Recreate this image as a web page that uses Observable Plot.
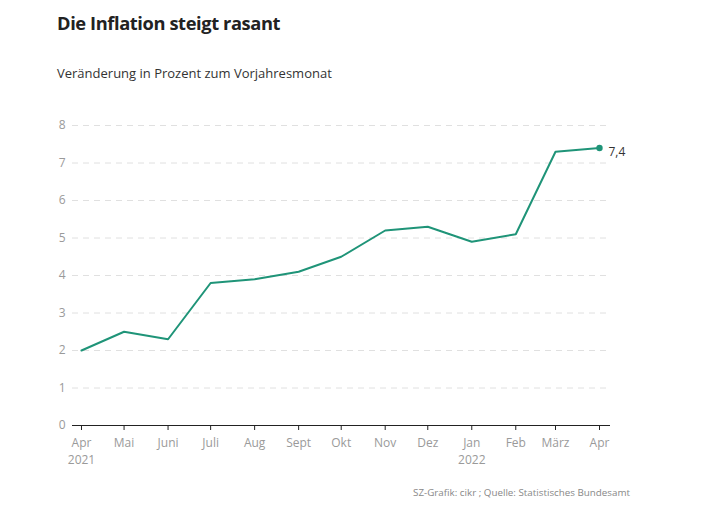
<!DOCTYPE html>
<html><head><meta charset="utf-8">
<script src="https://cdn.jsdelivr.net/npm/d3@7"></script>
<script src="https://cdn.jsdelivr.net/npm/@observablehq/plot@0.6"></script>
<style>
body{margin:0;background:#fff;font-family:"Open Sans",sans-serif;}
#wrap{position:relative;width:710px;height:507px;overflow:hidden;}
#title{position:absolute;left:57px;top:10px;margin:0;font-size:18.3px;font-weight:700;color:#222;letter-spacing:-0.4px;}
#sub{position:absolute;left:57px;top:64px;margin:0;font-size:13px;color:#333;}
#chart{position:absolute;left:0;top:105px;}
#cap{position:absolute;right:80px;top:486px;font-size:9.8px;color:#888;}
</style></head>
<body><div id="wrap">
<div id="title">Die Inflation steigt rasant</div>
<div id="sub">Veränderung in Prozent zum Vorjahresmonat</div>
<div id="chart"></div>
<div id="cap">SZ-Grafik: cikr ; Quelle: Statistisches Bundesamt</div>
</div>
<script>
const months = ["2021-04-01","2021-05-01","2021-06-01","2021-07-01","2021-08-01","2021-09-01","2021-10-01","2021-11-01","2021-12-01","2022-01-01","2022-02-01","2022-03-01","2022-04-01"];
const values = [2.0,2.5,2.3,3.8,3.9,4.1,4.5,5.2,5.3,4.9,5.1,7.3,7.4];
const monthLabels = ["Apr\n2021","Mai","Juni","Juli","Aug","Sept","Okt","Nov","Dez","Jan\n2022","Feb","März","Apr"];
const yTicks = [0,1,2,3,4,5,6,7,8];

const dates = months.map(s => new Date(s + "T00:00:00Z"));
const data = dates.map((d,i) => ({date:d, value:values[i]}));
const last = [data[data.length-1]];
const labelOf = new Map(dates.map((d,i)=>[+d, monthLabels[i]]));
const fmt = v => String(v).replace(".", ",");

const chart = Plot.plot({
  width:710, height:370,
  marginLeft:72, marginRight:100, marginTop:20, marginBottom:50,
  x:{type:"utc", domain:[new Date("2021-03-25T16:00:00Z"), new Date("2022-04-08T18:00:00Z")]},
  y:{domain:[0,8]},
  style:{fontFamily:"Open Sans, sans-serif", background:"#fff"},
  marks:[
    Plot.gridY(yTicks.slice(1), {stroke:"#e0e0e0", strokeOpacity:1, strokeDasharray:"6,5"}),
    Plot.axisY(yTicks, {tickSize:0, tickPadding:7, fill:"#9a9a9a", fontSize:12, label:null}),
    Plot.ruleY([0], {stroke:"#222", strokeWidth:1}),
    Plot.axisX(dates, {tickSize:5, tickPadding:4, stroke:"#222", fill:"#9a9a9a", fontSize:12, lineHeight:1.45, label:null, tickFormat:d=>labelOf.get(+d)}),
    Plot.line(data, {x:"date", y:"value", stroke:"#1f9478", strokeWidth:2}),
    Plot.dot(last, {x:"date", y:"value", fill:"#1f9478", r:3.2}),
    Plot.text(last, {x:"date", y:"value", text:d=>fmt(d.value), dx:9, dy:4, textAnchor:"start", fill:"#333", fontSize:12})
  ]
});
document.getElementById("chart").appendChild(chart);
</script>
</body></html>
